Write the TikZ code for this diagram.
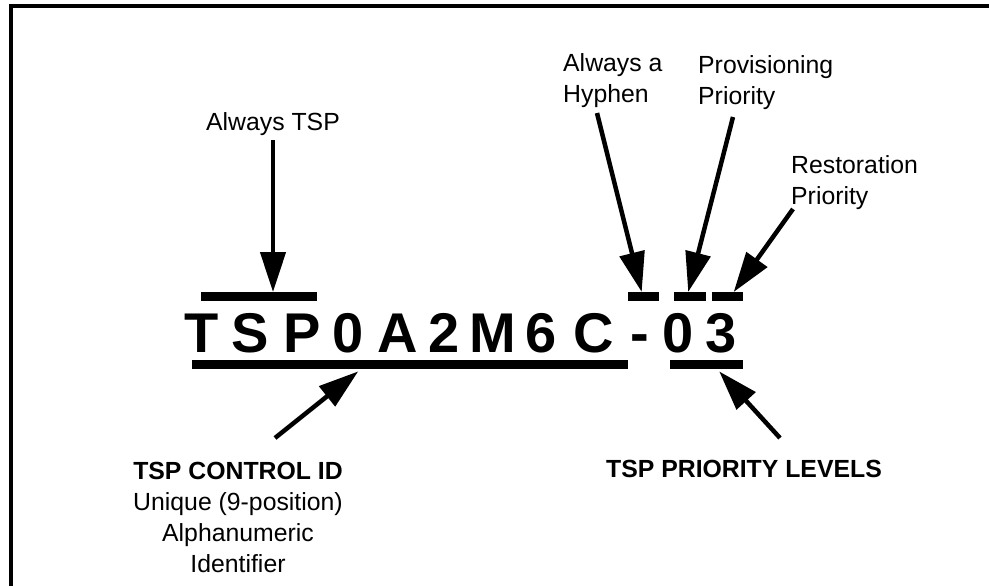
\documentclass[tikz,border=0pt]{standalone}
\usepackage{fontspec}
\setmainfont{Liberation Sans}
\usetikzlibrary{arrows.meta}
\begin{document}
\begin{tikzpicture}[x=1pt,y=-1pt,
  lbl/.style={inner sep=0pt, font=\fontsize{24.8}{31}\selectfont},
  code/.style={inner sep=0pt, anchor=base, font=\fontsize{56}{60}\selectfont\bfseries},
  bar/.style={fill=black, inner sep=0pt, minimum height=9pt, anchor=north west},
  arr/.style={line width=4.5pt, -{Triangle[length=40pt,width=25pt]}},
  frame/.style={line width=4pt}]
\useasboundingbox (0,0) rectangle (989,586);

% frame (open on the right and at the bottom)
\draw[frame] (11,586) -- (11,6) -- (989,6);

% the code itself
\node[code] (c1)  at (202,352) {T};
\node[code] (c2)  at (250,352) {S};
\node[code] (c3)  at (302,352) {P};
\node[code] (c4)  at (348,352) {0};
\node[code] (c5)  at (398,352) {A};
\node[code] (c6)  at (444,352) {2};
\node[code] (c7)  at (493,352) {M};
\node[code] (c8)  at (541,352) {6};
\node[code] (c9)  at (594,352) {C};
\node[code] (c10) at (640,352) {-};
\node[code] (c11) at (678,352) {0};
\node[code] (c12) at (721,352) {3};

% marker bars above
\node[bar, minimum width=116pt] (barTSP)  at (201,292) {};
\node[bar, minimum width=31pt]  (barHyp)  at (628,292) {};
\node[bar, minimum width=32pt]  (barProv) at (674,292) {};
\node[bar, minimum width=31pt]  (barRest) at (712,292) {};
% marker bars below
\node[bar, minimum width=436pt] (barCtrl) at (192,360) {};
\node[bar, minimum width=73pt]  (barPrio) at (670,360) {};

% labels
\node[lbl, anchor=north] (lTSP) at (273,112) {Always TSP};
\node[lbl, anchor=north west, align=left] (lHyp) at (563,53) {Always a\\Hyphen};
\node[lbl, anchor=north west, align=left] (lProv) at (698,55) {Provisioning\\Priority};
\node[lbl, anchor=north west, align=left] (lRest) at (791,155) {Restoration\\Priority};
\node[lbl, anchor=north, align=center] (lCtrl) at (238,462)
  {\textbf{TSP CONTROL ID}\\Unique (9-position)\\Alphanumeric\\Identifier};
\node[lbl, anchor=north, font=\fontsize{24.8}{31}\selectfont\bfseries] (lPrio) at (744,460)
  {TSP PRIORITY LEVELS};

% pointers
\coordinate (sTSP)  at (273,140);
\coordinate (sHyp)  at (597,113);
\coordinate (sProv) at (733,117);
\coordinate (sRest) at (793,209);
\coordinate (sCtrl) at (275,438);
\coordinate (sPrio) at (780,438);

\draw[arr] (sTSP) -- (sTSP |- barTSP.north);
\draw[arr] (sHyp) -- ([xshift=-2pt]barHyp.north);
\draw[arr] (sProv) -- ([xshift=-2pt]barProv.north);
\draw[arr] (sRest) -- ([xshift=6pt]barRest.north);
\draw[arr] (sCtrl) -- ([xshift=-52pt,yshift=-2pt]barCtrl.south);
\draw[arr] (sPrio) -- ([xshift=12.5pt,yshift=-2pt]barPrio.south);
\end{tikzpicture}
\end{document}
